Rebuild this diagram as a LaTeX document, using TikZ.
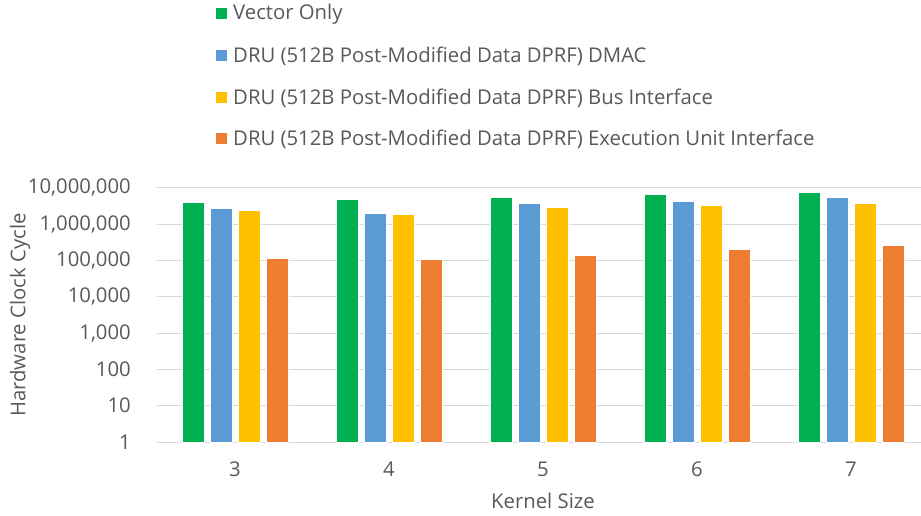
\documentclass[tikz,border=0pt]{standalone}
\usepackage{fontspec}
\setmainfont{Open Sans}
\definecolor{txt}{HTML}{595959}
\definecolor{gridc}{HTML}{D9D9D9}
\definecolor{sGreen}{HTML}{00B050}
\definecolor{sBlue}{HTML}{5B9BD5}
\definecolor{sYellow}{HTML}{FFC000}
\definecolor{sOrange}{HTML}{ED7D31}
\begin{document}
\begin{tikzpicture}[x=1pt,y=-1pt,
  lbl/.style={text=txt,font=\fontsize{20.3}{24}\selectfont,inner sep=0pt},
  gridline/.style={draw=gridc,line width=1pt},
  barbox/.style={draw=white,line width=0.6pt},
  keybox/.style={minimum size=11pt,inner sep=0pt}]
\useasboundingbox (0,0) rectangle (921,516);
\fill[white] (0,0) rectangle (921,516);
% value axis: one decade = 36.3pt, baseline at y=442
\def\base{442}
\def\dec{36.3}
\foreach \k/\t in {0/1,1/10,2/100,3/{1,000},4/{10,000},5/{100,000},6/{1,000,000},7/{10,000,000}}{
  \draw[gridline] (157,\base-\dec*\k) -- (921,\base-\dec*\k);
  \node[lbl,anchor=east] (tick\k) at (131,\base-\dec*\k) {\t};
}
% bars: log10 of each value, four series per kernel size
\foreach \g/\a/\b/\c/\d [count=\i from 0] in
  {3/6.59/6.45/6.38/5.05,
   4/6.69/6.30/6.27/5.03,
   5/6.73/6.58/6.47/5.14,
   6/6.83/6.64/6.51/5.31,
   7/6.89/6.73/6.58/5.43}{
  \pgfmathsetmacro{\cx}{235+154*\i}
  \fill[sGreen,barbox]  (\cx-53,\base) rectangle (\cx-31,\base-\dec*\a);
  \fill[sBlue,barbox]   (\cx-25,\base) rectangle (\cx-3,\base-\dec*\b);
  \fill[sYellow,barbox] (\cx+3,\base) rectangle (\cx+25,\base-\dec*\c);
  \fill[sOrange,barbox] (\cx+31,\base) rectangle (\cx+53,\base-\dec*\d);
  \node[lbl] (cat\g) at (\cx,469) {\g};
}
% axis titles
\node[lbl] (xtitle) at (543,501) {Kernel Size};
\node[lbl,rotate=90] (ytitle) at (20,315) {Hardware Clock Cycle};
% legend
\foreach \y/\c/\t [count=\j] in
  {14/sGreen/Vector Only,
   56/sBlue/DRU (512B Post-Modified Data DPRF) DMAC,
   98/sYellow/DRU (512B Post-Modified Data DPRF) Bus Interface,
   139/sOrange/DRU (512B Post-Modified Data DPRF) Execution Unit Interface}{
  \node[keybox,fill=\c] (key\j) at (221,\y) {};
  \node[lbl,anchor=west] (leg\j) at (233,\y) {\t};
}
\end{tikzpicture}
\end{document}
